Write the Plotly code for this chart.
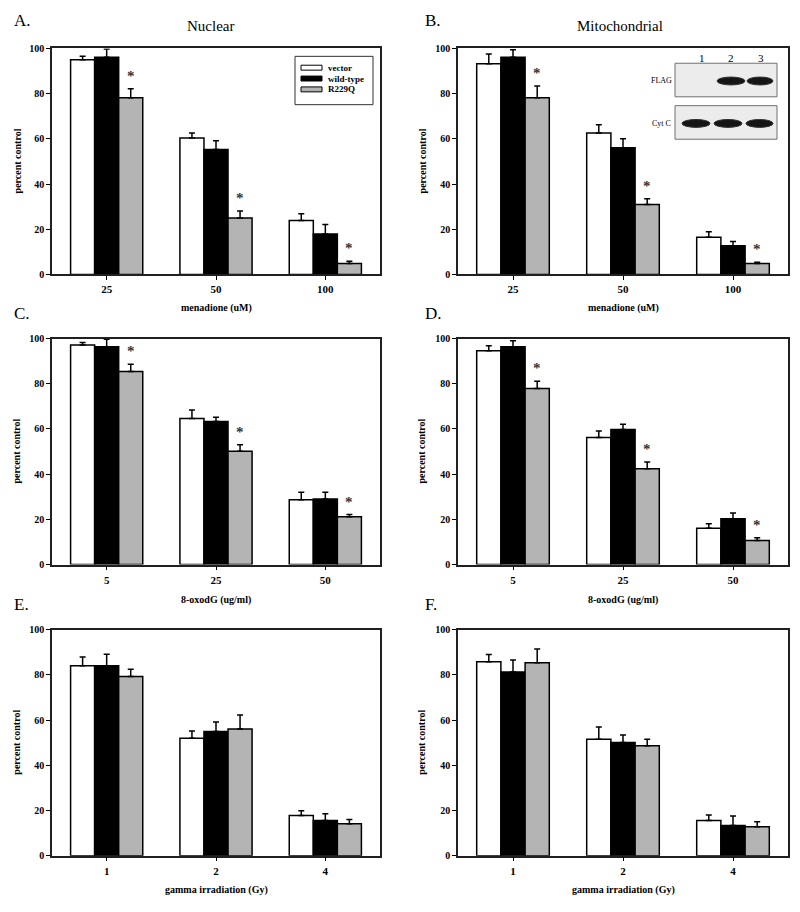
import plotly.graph_objects as go

# ---------------- data ----------------
series_names = ["vector", "wild-type", "R229Q"]

cats_A = ["25", "50", "100"]
A_vector = [95, 60.4, 23.9]
A_vector_err = [1.5, 2.2, 3.0]
A_wild = [96.1, 55.3, 17.9]
A_wild_err = [3.6, 3.9, 4.2]
A_r229q = [78.2, 25.0, 4.8]
A_r229q_err = [4.0, 3.1, 1.0]

cats_B = ["25", "50", "100"]
B_vector = [93.2, 62.6, 16.4]
B_vector_err = [4.3, 3.6, 2.5]
B_wild = [96.1, 56.0, 12.7]
B_wild_err = [3.3, 4.0, 1.9]
B_r229q = [78.2, 30.9, 4.8]
B_r229q_err = [5.2, 2.6, 0.6]

cats_C = ["5", "25", "50"]
C_vector = [97.1, 64.6, 28.7]
C_vector_err = [1.2, 3.8, 3.3]
C_wild = [96.4, 63.3, 29.0]
C_wild_err = [3.3, 1.9, 3.0]
C_r229q = [85.4, 50.1, 21.1]
C_r229q_err = [3.2, 2.9, 1.0]

cats_D = ["5", "25", "50"]
D_vector = [94.6, 56.2, 16.1]
D_vector_err = [2.2, 2.9, 2.0]
D_wild = [96.4, 59.8, 20.3]
D_wild_err = [2.6, 2.3, 2.5]
D_r229q = [77.9, 42.4, 10.6]
D_r229q_err = [3.2, 3.0, 1.3]

cats_E = ["1", "2", "4"]
E_vector = [84.0, 52.0, 17.8]
E_vector_err = [3.9, 3.2, 2.1]
E_wild = [84.0, 54.9, 15.6]
E_wild_err = [5.1, 4.2, 2.9]
E_r229q = [79.3, 56.0, 14.1]
E_r229q_err = [3.2, 6.2, 1.9]

cats_F = ["1", "2", "4"]
F_vector = [85.8, 51.5, 15.6]
F_vector_err = [3.2, 5.4, 2.4]
F_wild = [81.3, 50.1, 13.4]
F_wild_err = [5.3, 3.3, 4.1]
F_r229q = [85.4, 48.6, 12.8]
F_r229q_err = [6.1, 2.9, 2.2]

# significance markers (R229Q)
A_sig = [True, True, True]
B_sig = [True, True, True]
C_sig = [True, True, True]
D_sig = [True, True, True]
E_sig = [False, False, False]
F_sig = [False, False, False]

panel_letters = ["A.", "B.", "C.", "D.", "E.", "F."]
col_titles = ["Nuclear", "Mitochondrial"]
x_titles = ["menadione (uM)", "menadione (uM)", "8-oxodG (ug/ml)", "8-oxodG (ug/ml)",
            "gamma irradiation (Gy)", "gamma irradiation (Gy)"]
y_title = "percent control"
y_ticks = [0, 20, 40, 60, 80, 100]
blot_lanes = ["1", "2", "3"]
blot_labels = ["FLAG", "Cyt C"]

# ---------------- layout geometry ----------------
W, H = 800, 912
FONT = "Liberation Serif"
colors = ["white", "black", "#b4b4b4"]

def px(x):
    return x / W

def py(y):
    return 1 - y / H

x_doms = [(52, 380), (458, 788)]
y_doms = [(43, 272), (337, 566), (632, 861)]

panels = [
    (cats_A, [A_vector, A_wild, A_r229q], [A_vector_err, A_wild_err, A_r229q_err], A_sig),
    (cats_B, [B_vector, B_wild, B_r229q], [B_vector_err, B_wild_err, B_r229q_err], B_sig),
    (cats_C, [C_vector, C_wild, C_r229q], [C_vector_err, C_wild_err, C_r229q_err], C_sig),
    (cats_D, [D_vector, D_wild, D_r229q], [D_vector_err, D_wild_err, D_r229q_err], D_sig),
    (cats_E, [E_vector, E_wild, E_r229q], [E_vector_err, E_wild_err, E_r229q_err], E_sig),
    (cats_F, [F_vector, F_wild, F_r229q], [F_vector_err, F_wild_err, F_r229q_err], F_sig),
]

fig = go.Figure()
annotations = []
shapes = []
bargap = 0.34
bw = (1 - bargap) / 3

for i, (cats, vals, errs, sig) in enumerate(panels):
    r, c = divmod(i, 2)
    n = i + 1
    xa = "x" if n == 1 else f"x{n}"
    ya = "y" if n == 1 else f"y{n}"
    xpos = list(range(len(cats)))
    for s in range(3):
        fig.add_trace(go.Bar(
            x=xpos, y=vals[s], name=series_names[s],
            marker=dict(color=colors[s], line=dict(color="black", width=1.5)),
            error_y=dict(type="data", array=errs[s], arrayminus=[0] * len(cats),
                         symmetric=False, color="black", thickness=1.5, width=3),
            xaxis=xa, yaxis=ya, showlegend=False,
        ))
    x0, x1 = x_doms[c]
    y0, y1 = y_doms[r]
    fig.layout[f"xaxis{'' if n == 1 else n}"] = dict(
        domain=[px(x0), px(x1)], anchor=ya, range=[-0.5, 2.5],
        tickvals=xpos, ticktext=cats, showline=True, linecolor="#202020", linewidth=1.5,
        mirror=True, ticks="outside", ticklen=4, tickcolor="black",
        tickfont=dict(family=FONT, size=11, color="black", weight="bold"),
        showgrid=False, zeroline=False, fixedrange=True,
    )
    fig.layout[f"yaxis{'' if n == 1 else n}"] = dict(
        domain=[py(y1), py(y0)], anchor=xa, range=[0, 100],
        tickvals=y_ticks, showline=True, linecolor="#202020", linewidth=1.5,
        mirror=True, ticks="outside", ticklen=4, tickcolor="black",
        tickfont=dict(family=FONT, size=10, color="black", weight="bold"),
        showgrid=False, zeroline=False, fixedrange=True,
    )
    # asterisks
    for k in range(len(cats)):
        if sig[k]:
            annotations.append(dict(
                x=k + bw, y=vals[2][k] + errs[2][k], xref=xa, yref=ya,
                text="<b>*</b>", showarrow=False, xanchor="center", yanchor="bottom", yshift=3,
                font=dict(family=FONT, size=15, color="#333333"),
            ))
    # panel letter
    lx = 12 if c == 0 else 423
    ly = [15, 312, 606][r]
    annotations.append(dict(x=px(lx), y=py(ly), xref="paper", yref="paper",
                            text=panel_letters[i], showarrow=False, xanchor="left",
                            yanchor="middle", font=dict(family=FONT, size=17, color="black")))
    # y title
    yx = 17 if c == 0 else 422
    annotations.append(dict(x=px(yx), y=py((y0 + y1) / 2), xref="paper", yref="paper",
                            text=f"<b>{y_title}</b>", textangle=-90, showarrow=False,
                            xanchor="center", yanchor="middle",
                            font=dict(family=FONT, size=10, color="black")))
    # x title
    xty = [306, 602, 896][r]
    annotations.append(dict(x=px((x0 + x1) / 2), y=py(xty), xref="paper", yref="paper",
                            text=f"<b>{x_titles[i]}</b>", showarrow=False,
                            xanchor="center", yanchor="middle",
                            font=dict(family=FONT, size=10, color="black")))

# column titles
for tx, t in zip([210, 620], col_titles):
    annotations.append(dict(x=px(tx), y=py(20), xref="paper", yref="paper", text=t,
                            showarrow=False, xanchor="center", yanchor="middle",
                            font=dict(family=FONT, size=15, color="black")))

# ---------------- legend (panel A) ----------------
shapes.append(dict(type="rect", xref="paper", yref="paper",
                   x0=px(295), x1=px(373), y0=py(100), y1=py(51),
                   fillcolor="white", line=dict(color="#303030", width=1)))
for s, ly in enumerate([62.5, 73.5, 84.5]):
    shapes.append(dict(type="rect", xref="paper", yref="paper",
                       x0=px(301), x1=px(322), y0=py(ly + 2.5), y1=py(ly - 2.5),
                       fillcolor=colors[s], line=dict(color="black", width=1)))
    annotations.append(dict(x=px(326), y=py(ly), xref="paper", yref="paper",
                            text=f"<b>{series_names[s]}</b>", showarrow=False,
                            xanchor="left", yanchor="middle",
                            font=dict(family=FONT, size=9, color="black")))

# ---------------- western blot inset (panel B) ----------------
for (bx0, by0, bx1, by1) in [(675, 58, 777, 92), (675, 101, 777, 135)]:
    shapes.append(dict(type="rect", xref="paper", yref="paper",
                       x0=px(bx0), x1=px(bx1), y0=py(by1), y1=py(by0),
                       fillcolor="#ececec", line=dict(color="#707070", width=1)))
for lx, lab in zip([702, 731, 761], blot_lanes):
    annotations.append(dict(x=px(lx), y=py(53), xref="paper", yref="paper", text=lab,
                            showarrow=False, xanchor="center", yanchor="middle",
                            font=dict(family=FONT, size=11, color="black")))
for ly, lab in zip([75, 119], blot_labels):
    annotations.append(dict(x=px(661), y=py(ly), xref="paper", yref="paper", text=lab,
                            showarrow=False, xanchor="center", yanchor="middle",
                            font=dict(family=FONT, size=8, color="black")))
for (ex0, ey0, ex1, ey1) in [(717, 72, 745, 80), (747, 72, 773, 80),
                             (682, 115, 710, 123), (714, 115, 742, 123), (746, 115, 773, 123)]:
    shapes.append(dict(type="circle", xref="paper", yref="paper",
                       x0=px(ex0), x1=px(ex1), y0=py(ey1), y1=py(ey0),
                       fillcolor="#151515", line=dict(color="#303030", width=1)))

fig.update_layout(
    width=W, height=H, margin=dict(l=0, r=0, t=0, b=0),
    paper_bgcolor="white", plot_bgcolor="white",
    barmode="group", bargap=bargap, bargroupgap=0,
    annotations=annotations, shapes=shapes,
    showlegend=False,
    font=dict(family=FONT, color="black"),
)

fig.write_html("out.html", config={"displayModeBar": False},
               post_script="document.body.style.margin='0';document.body.style.overflow='hidden';")
